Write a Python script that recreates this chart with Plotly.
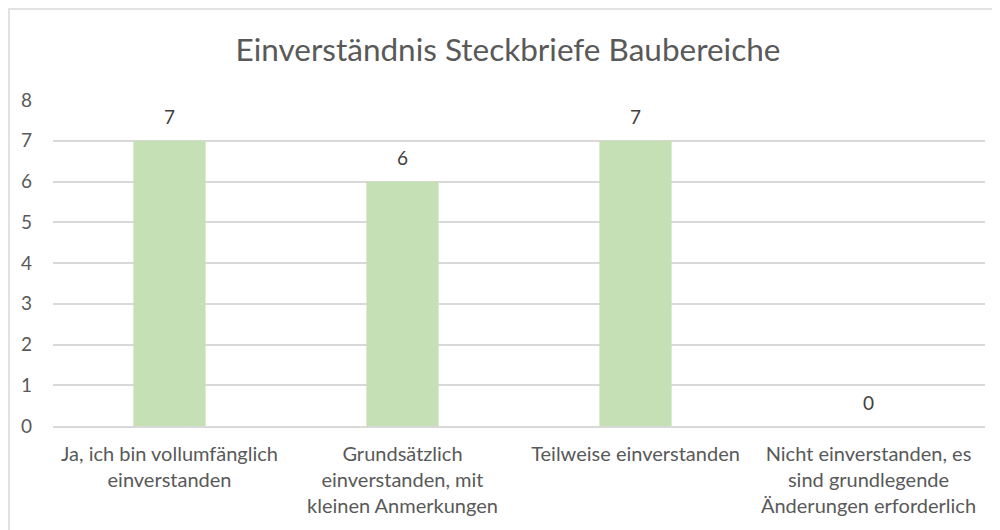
import plotly.graph_objects as go

categories = [
    "Ja, ich bin vollumfänglich<br>einverstanden",
    "Grundsätzlich<br>einverstanden, mit<br>kleinen Anmerkungen",
    "Teilweise einverstanden",
    "Nicht einverstanden, es<br>sind grundlegende<br>Änderungen erforderlich",
]
values = [7, 6, 7, 0]
y_ticks = [0, 1, 2, 3, 4, 5, 6, 7, 8]

# page has an 8px body margin; figure coords = page coords - 8
OFF = 8
W, H = 1000, 530
ml, mr, mt, mb = 53 - OFF, 1000 - (985 - OFF), 100 - OFF, 530 - (426 - OFF)
pw, ph = W - ml - mr, H - mt - mb

def px_x(p):
    return (p - OFF - ml) / pw

def px_y(p):
    return (H - mb - (p - OFF)) / ph

FONT = "Lato"

fig = go.Figure(
    go.Bar(
        x=categories,
        y=values,
        marker=dict(color="#C5E0B4", line=dict(width=0)),
        width=0.31,
        hoverinfo="x+y",
    )
)

for c, v in zip(categories, values):
    fig.add_annotation(
        x=c,
        y=v,
        text=str(v),
        showarrow=False,
        yanchor="middle",
        yshift=24,
        font=dict(family=FONT, size=19, color="#404040"),
    )

fig.update_layout(
    width=W,
    height=H,
    margin=dict(l=ml, r=mr, t=mt, b=mb, autoexpand=False),
    paper_bgcolor="white",
    plot_bgcolor="white",
    showlegend=False,
    title=dict(
        text="Einverständnis Steckbriefe Baubereiche",
        x=(508 - OFF) / W,
        xanchor="center",
        y=1 - (50 - OFF) / H,
        yanchor="middle",
        font=dict(family=FONT, size=31.5, color="#595959"),
    ),
    font=dict(family=FONT, color="#595959"),
)

fig.update_yaxes(
    range=[0, 8],
    tickvals=y_ticks,
    showgrid=True,
    gridcolor="#D9D9D9",
    gridwidth=1.5,
    zeroline=False,
    showline=False,
    automargin=False,
    ticklabelstandoff=20,
    tickfont=dict(family=FONT, size=19, color="#595959"),
)
fig.update_xaxes(
    showline=True,
    linecolor="#D9D9D9",
    linewidth=1.5,
    ticks="",
    automargin=False,
    ticklabelstandoff=9,
    tickfont=dict(family=FONT, size=20, color="#595959"),
)

fig.add_shape(
    type="rect",
    xref="paper",
    yref="paper",
    x0=px_x(OFF + 1),
    x1=px_x(1020),
    y0=px_y(560),
    y1=px_y(9),
    line=dict(color="#D9D9D9", width=1.5),
    fillcolor="rgba(0,0,0,0)",
    layer="below",
)

fig.write_html("out.html")
